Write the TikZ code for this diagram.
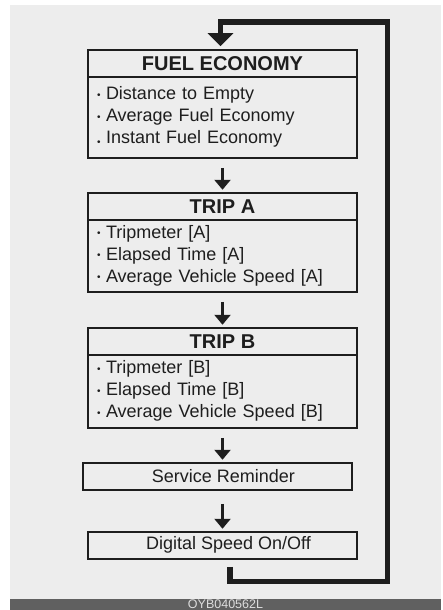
\documentclass[tikz,border=0pt]{standalone}
\usepackage{fontspec}
\setmainfont{Liberation Sans}
\usepackage{tikz}
\usetikzlibrary{positioning, arrows.meta}
\definecolor{panel}{HTML}{EDEDED}
\definecolor{ink}{HTML}{1E1E1E}
\definecolor{barcol}{HTML}{606060}
\definecolor{bartext}{HTML}{DDDDDD}
\newcommand{\itemdot}{\raisebox{1.5pt}{\fontsize{10}{10}\selectfont\textbullet}\hspace{5.5pt}}
\newcommand{\lowdot}{\raisebox{-2pt}{\fontsize{10}{10}\selectfont\textbullet}\hspace{5.5pt}}

\begin{document}
\begin{tikzpicture}[x=1pt, y=-1pt, >={Triangle[width=16pt,length=10pt]}, line join=miter,
    title/.style={draw=ink, line width=2.4pt, outer sep=0pt, minimum width=269pt, minimum height=27pt, inner sep=0pt, text=ink, font=\fontsize{20}{20}\selectfont\bfseries},
    items/.style={draw=ink, line width=2.4pt, outer sep=0pt, text width=251pt, inner xsep=9pt, align=left, text=ink, font=\fontsize{18}{22}\selectfont},
    single/.style={draw=ink, line width=2.4pt, outer sep=0pt, minimum width=269pt, minimum height=27pt, inner sep=0pt, text=ink, font=\fontsize{18}{18}\selectfont},
    next/.style={->, draw=ink, line width=3.5pt, shorten <=10pt, shorten >=3pt},
    back/.style={-{Triangle[width=25pt,length=13pt]}, draw=ink, line width=5.5pt, shorten >=3.5pt}]
      \useasboundingbox (0,0) rectangle (443,610);
      \clip (0,0) rectangle (443,610);
      \fill[white] (0,0) rectangle (443,610);
      \fill[panel] (10,5) rectangle (441,599);
      \fill[barcol] (10,599) rectangle (441,610);
      \node[anchor=base, inner sep=0pt, text=bartext, font=\fontsize{12.5}{12.5}\selectfont] (code) at (225.5,608) {OYB040562L};

      \node[title] (fuelhead) at (222.5,63.25) {FUEL ECONOMY};
      \node[items, minimum height=81pt] (fuelbody) [below=0pt of fuelhead] {\itemdot Distance to Empty\\\itemdot Average Fuel Economy\\\lowdot Instant Fuel Economy};
      \node[title] (tripahead) [below=35pt of fuelbody] {TRIP A};
      \node[items, minimum height=72pt] (tripabody) [below=0pt of tripahead] {\itemdot Tripmeter [A]\\\itemdot Elapsed Time [A]\\\itemdot Average Vehicle Speed [A]};
      \node[title] (tripbhead) [below=36pt of tripabody] {TRIP B\hspace{29pt}};
      \node[items, minimum height=73pt] (tripbbody) [below=0pt of tripbhead] {\itemdot Tripmeter [B]\\\itemdot Elapsed Time [B]\\\itemdot Average Vehicle Speed [B]};
      \node[single] (service) [below=35pt of tripbbody, xshift=-5pt] {\hspace{12pt}Service Reminder};
      \node[single] (digital) [below=42pt of service, xshift=5pt] {\hspace{12pt}Digital Speed On/Off};

      \coordinate (turnlow) at (387.5,581.5);
      \coordinate (turnhigh) at (387.5,22);

      \path (fuelbody.south) edge [next] (tripahead.north)
            (tripabody.south) edge [next] (tripbhead.north)
            (tripbbody.south) edge [next] (tripbbody.south |- service.north)
            (service.south -| digital.north) edge [next, shorten <=14pt] (digital.north);
      \draw[back] ([xshift=7.5pt,yshift=-8pt]digital.south) |- (turnlow) -- (turnhigh) -| ([xshift=-2pt]fuelhead.north);
    \end{tikzpicture}
\end{document}
